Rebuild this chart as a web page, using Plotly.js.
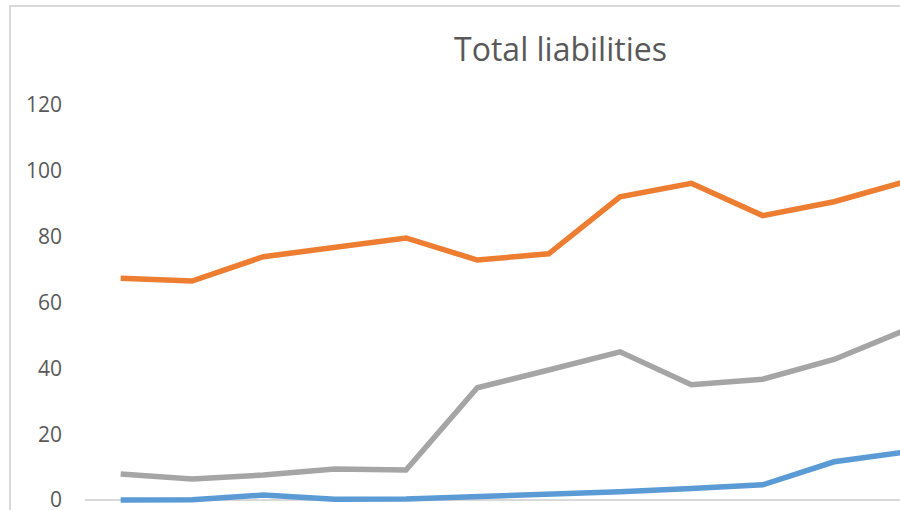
<!DOCTYPE html>
<html>
<head>
<meta charset="utf-8">
<script src="https://cdn.plot.ly/plotly-3.0.1.min.js"></script>
<style>
  html, body { margin: 0; padding: 0; background: #fff; overflow: hidden; }
  #wrap { position: relative; width: 900px; height: 510px; overflow: hidden; }
  #frame { position: absolute; left: 9px; top: 5px; width: 1000px; height: 600px;
           border-top: 2px solid #d9d9d9; border-left: 2px solid #d9d9d9; pointer-events: none; }
  #chart { position: absolute; left: 0; top: 0; width: 900px; height: 540px; }
</style>
</head>
<body>
<div id="wrap">
  <div id="chart"></div>
  <div id="frame"></div>
</div>
<script>
// Reporting periods (category positions along the x axis)
const periods = [1, 2, 3, 4, 5, 6, 7, 8, 9, 10, 11, 12];

// Total liabilities by series
const series1 = [0.0, 0.1, 1.5, 0.2, 0.3, 1.0, 1.5, 2.5, 3.5, 4.6, 11.6, 14.6];
const series2 = [67.4, 66.5, 73.9, 76.9, 79.6, 72.9, 74.8, 92.1, 96.2, 86.4, 90.6, 96.7];
const series3 = [7.9, 6.4, 7.6, 9.4, 9.1, 34.1, 39.5, 45.0, 35.0, 36.7, 42.7, 51.6];

const names = ['Series1', 'Series2', 'Series3'];
const colors = ['#5B9BD5', '#ED7D31', '#A5A5A5'];
const yTicks = [0, 20, 40, 60, 80, 100, 120];

const traces = [series1, series2, series3].map((vals, i) => ({
  x: periods,
  y: vals,
  name: names[i],
  type: 'scatter',
  mode: 'lines',
  line: { color: colors[i], width: 5.5, shape: 'linear' },
  hoverinfo: 'skip'
}));

// The chart is taller than the visible window; the wrapper crops the bottom strip.
const layout = {
  width: 900,
  height: 540,
  margin: { l: 85, r: 0, t: 105, b: 30, pad: 0 },
  paper_bgcolor: 'rgba(0,0,0,0)',
  plot_bgcolor: 'rgba(0,0,0,0)',
  showlegend: false,
  title: {
    text: 'Total liabilities',
    font: { family: 'Open Sans, sans-serif', size: 32, color: '#595959' },
    xref: 'container', yref: 'container',
    x: 0.6228, xanchor: 'center',
    y: 1 - 50 / 540, yanchor: 'middle'
  },
  xaxis: {
    range: [0.5, 11.925],
    showgrid: false,
    showline: false,
    zeroline: false,
    showticklabels: false,
    ticks: '',
    fixedrange: true
  },
  yaxis: {
    range: [-3.04, 120],
    tickvals: yTicks,
    ticktext: yTicks.map(String),
    showgrid: false,
    showline: false,
    zeroline: true,
    zerolinecolor: '#d9d9d9',
    zerolinewidth: 1.5,
    ticks: '',
    ticklabelstandoff: 22,
    ticklabeloverflow: 'allow',
    tickfont: { family: 'Open Sans, sans-serif', size: 21, color: '#595959' },
    fixedrange: true
  }
};

Plotly.newPlot('chart', traces, layout, { displayModeBar: false, staticPlot: true });
</script>
</body>
</html>
